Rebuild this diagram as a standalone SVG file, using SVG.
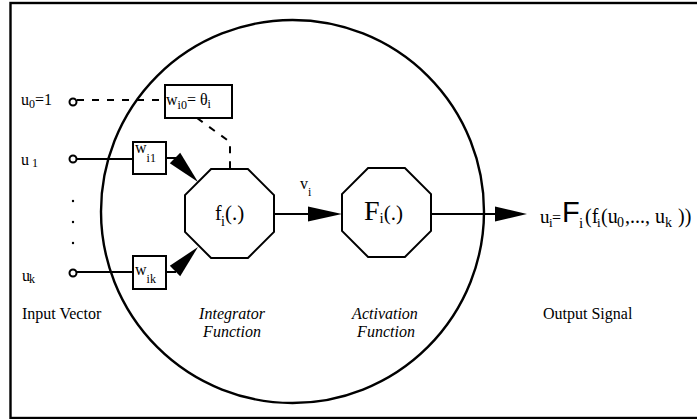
<svg xmlns="http://www.w3.org/2000/svg" width="697" height="419" viewBox="0 0 697 419">
<style>
text{font-family:"Liberation Serif","Times New Roman",serif;fill:#000}
.ln{stroke:#000;stroke-width:2;fill:none}
.dash{stroke:#000;stroke-width:2;fill:none;stroke-dasharray:7 8}
.oct{stroke:#000;stroke-width:2;fill:#fff}
.box{stroke:#000;stroke-width:2;fill:#fff}
.pin{stroke:#000;stroke-width:2;fill:#fff}
.ah{fill:#000;stroke:none}
.lbl{font-size:16px}
.it{font-size:16px;font-style:italic}
.sub{font-size:12px}
</style>
<rect x="10.5" y="3" width="700" height="415" fill="#fff" stroke="#000" stroke-width="2.4"/>
<g id="neuron"><circle cx="292.5" cy="211.5" r="191.5" fill="none" stroke="#000" stroke-width="2.4"/></g>
<g id="connectors">
<path class="dash" d="M77,100 H165"/>
<path class="dash" d="M197,118 L230,142 V169"/>
<path class="ln" d="M77,159 H133"/>
<path class="ln" d="M77,272 H133"/>
<path class="ln" d="M166,158 H176"/>
<polygon class="ah" points="169.8,163.2 180.2,152.8 198,182"/>
<path class="ln" d="M166,272 H176"/>
<polygon class="ah" points="169.8,265.8 180.2,276.2 198,247"/>
<path class="ln" d="M274,214 H310"/>
<polygon class="ah" points="308,206.5 342,214 308,221.5"/>
<path class="ln" d="M431,214 H497"/>
<polygon class="ah" points="495,206.5 527,214 495,221.5"/>
</g>
<g id="input-u0">
<circle class="pin" cx="73" cy="102" r="3.5"/>
<text class="lbl" x="21" y="105" font-size="17">u<tspan class="sub" dy="3">0</tspan><tspan dy="-3">=1</tspan></text>
</g>
<g id="input-u1">
<circle class="pin" cx="73" cy="159" r="3.5"/>
<text class="lbl" x="21" y="165" font-size="17">u<tspan class="sub" x="32" dy="2">1</tspan></text>
</g>
<g id="dots">
<circle cx="73" cy="201" r="1.2" fill="#000"/>
<circle cx="73" cy="222" r="1.2" fill="#000"/>
<circle cx="73" cy="243" r="1.2" fill="#000"/>
</g>
<g id="input-uk">
<circle class="pin" cx="73" cy="273" r="3.5"/>
<text class="lbl" x="22" y="281" font-size="17">u<tspan class="sub" x="29" dy="2" font-size="13">k</tspan></text>
</g>
<g id="w-i0">
<rect class="box" x="165" y="85" width="67" height="33"/>
<text class="lbl" x="166" y="105" font-size="18">w<tspan class="sub" font-size="13" dy="4">i0</tspan><tspan dy="-4">= θ</tspan><tspan class="sub" font-size="13" dy="3">i</tspan></text>
</g>
<g id="w-i1">
<rect class="box" x="133" y="142" width="33" height="32"/>
<text class="lbl" x="135" y="153" font-size="17">w<tspan class="sub" font-size="13" dy="9">i1</tspan></text>
</g>
<g id="w-ik">
<rect class="box" x="133" y="256" width="33" height="33"/>
<text class="lbl" x="135" y="275" font-size="17">w<tspan class="sub" font-size="13" dy="8">ik</tspan></text>
</g>
<g id="integrator">
<polygon class="oct" points="211.1,169 247.9,169 274,195.1 274,231.9 247.9,258 211.1,258 185,231.9 185,195.1"/>
<text x="215" y="220" font-size="20">f<tspan x="221" dy="6" font-size="14">i</tspan><tspan x="225" dy="-6" font-size="21">(.)</tspan></text>
</g>
<g id="activation">
<polygon class="oct" points="368.1,168 404.9,168 431,194.1 431,230.9 404.9,257 368.1,257 342,230.9 342,194.1"/>
<text x="364" y="220" font-size="28">F<tspan dy="3" font-size="15">i</tspan><tspan dy="-3" font-size="21">(.)</tspan></text>
</g>
<g id="vi-label">
<text class="lbl" x="300" y="189">v<tspan class="sub" dy="7">i</tspan></text>
</g>
<g id="output">
<text x="540" y="223" font-size="19">u<tspan x="549" y="227" font-size="13">i</tspan><tspan x="552" y="223" font-size="16">=</tspan><tspan x="562" y="222" font-family="Liberation Sans,Arial,sans-serif" font-size="29">F</tspan><tspan x="579" y="228" font-size="15">i</tspan><tspan x="585" y="223" font-size="20">(f</tspan><tspan x="597" y="227" font-size="13">i</tspan><tspan x="601" y="223" font-size="20">(u</tspan><tspan x="617" y="227" font-size="14">0</tspan><tspan x="625" y="223" font-size="20">,..., u</tspan><tspan x="665" y="227" font-size="14">k</tspan><tspan x="678" y="223" font-size="20">))</tspan></text>
</g>
<g id="labels">
<text class="lbl" x="22" y="319">Input Vector</text>
<text class="it" x="232" y="319" text-anchor="middle">Integrator</text>
<text class="it" x="232" y="337" text-anchor="middle">Function</text>
<text class="it" x="385" y="319" text-anchor="middle">Activation</text>
<text class="it" x="386" y="337" text-anchor="middle">Function</text>
<text class="lbl" x="543" y="319">Output Signal</text>
</g>
</svg>
